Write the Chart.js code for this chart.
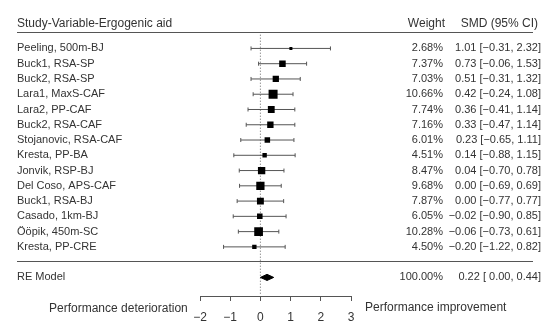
<!DOCTYPE html>
<html>
<head>
<meta charset="utf-8">
<script src="https://cdn.jsdelivr.net/npm/chart.js@4.4.1/dist/chart.umd.min.js"></script>
<style>
  html, body { margin: 0; padding: 0; background: #fff; }
  #wrap { width: 550px; height: 328px; position: relative; }
</style>
</head>
<body>
<div id="wrap"><canvas id="forest"></canvas></div>
<script>
// study rows, top to bottom
const studies = ['Peeling, 500m-BJ', 'Buck1, RSA-SP', 'Buck2, RSA-SP', 'Lara1, MaxS-CAF',
  'Lara2, PP-CAF', 'Buck2, RSA-CAF', 'Stojanovic, RSA-CAF', 'Kresta, PP-BA', 'Jonvik, RSP-BJ',
  'Del Coso, APS-CAF', 'Buck1, RSA-BJ', 'Casado, 1km-BJ', 'Ööpik, 450m-SC', 'Kresta, PP-CRE'];
const weights = [2.68, 7.37, 7.03, 10.66, 7.74, 7.16, 6.01, 4.51, 8.47, 9.68, 7.87, 6.05, 10.28, 4.50];
const smd = [1.01, 0.73, 0.51, 0.42, 0.36, 0.33, 0.23, 0.14, 0.04, 0.00, 0.00, -0.02, -0.06, -0.20];
const lower = [-0.31, -0.06, -0.31, -0.24, -0.41, -0.47, -0.65, -0.88, -0.70, -0.69, -0.77, -0.90, -0.73, -1.22];
const upper = [2.32, 1.53, 1.32, 1.08, 1.14, 1.14, 1.11, 1.15, 0.78, 0.69, 0.77, 0.85, 0.61, 0.82];
// random effects summary
const reLabel = 'RE Model';
const reEst = 0.22, reLow = 0.00, reHigh = 0.44, reWeight = 100.00;
const xTicks = [-2, -1, 0, 1, 2, 3];

const FONT = '"Liberation Sans", Arial, sans-serif';
const TXT = '#333';
const LINE = '#555';
const reRow = studies.length + 1;

const fmt = v => (v < 0 ? '\u2212' : '') + Math.abs(v).toFixed(2);
const fmtLow = v => (v < 0 ? '\u2212' : ' ') + Math.abs(v).toFixed(2);

// CI segments, separated by gaps
const ciData = [];
studies.forEach((s, i) => {
  ciData.push({x: lower[i], y: i}, {x: upper[i], y: i}, {x: null, y: null});
});
const ptData = studies.map((s, i) => ({x: smd[i], y: i}));
const diamond = [
  {x: reLow, y: reRow}, {x: reEst, y: reRow - 0.2},
  {x: reHigh, y: reRow}, {x: reEst, y: reRow + 0.2}, {x: reLow, y: reRow}
];

const textPlugin = {
  id: 'forestText',
  afterDraw(chart) {
    const ctx = chart.ctx;
    const ys = chart.scales.y;
    const px = v => ys.getPixelForValue(v);
    ctx.save();
    ctx.fillStyle = TXT;
    ctx.textBaseline = 'middle';
    ctx.font = '12px ' + FONT;
    // headers
    ctx.textAlign = 'left';
    ctx.fillText('Study-Variable-Ergogenic aid', 17, px(-1.6));
    ctx.textAlign = 'right';
    ctx.fillText('Weight', 445, px(-1.6));
    ctx.fillText('SMD (95% CI)', 538, px(-1.6));
    // rows
    ctx.font = '11px ' + FONT;
    studies.forEach((s, i) => {
      ctx.textAlign = 'left';
      ctx.fillText(s, 17, px(i));
      ctx.textAlign = 'right';
      ctx.fillText(weights[i].toFixed(2) + '%', 443, px(i));
      ctx.fillText(fmt(smd[i]) + ' [' + fmtLow(lower[i]) + ', ' + fmt(upper[i]) + ']', 541, px(i));
    });
    ctx.textAlign = 'left';
    ctx.fillText(reLabel, 17, px(reRow));
    ctx.textAlign = 'right';
    ctx.fillText(reWeight.toFixed(2) + '%', 443, px(reRow));
    ctx.fillText(fmt(reEst) + ' [' + fmtLow(reLow) + ', ' + fmt(reHigh) + ']', 541, px(reRow));
    // axis side labels
    ctx.font = '12px ' + FONT;
    ctx.textAlign = 'left';
    ctx.fillText('Performance deterioration', 49, 309);
    ctx.fillText('Performance improvement', 365, 308);
    // rule lines
    ctx.strokeStyle = LINE;
    ctx.lineWidth = 1;
    [-1.07, 13.9].forEach(v => {
      const y = Math.round(px(v)) + 0.5;
      ctx.beginPath();
      ctx.moveTo(17, y);
      ctx.lineTo(533, y);
      ctx.stroke();
    });
    ctx.restore();
  }
};

new Chart(document.getElementById('forest'), {
  type: 'scatter',
  data: {
    datasets: [
      {
        // points first so they sit on top
        data: ptData,
        pointStyle: 'rect',
        pointRadius: weights.map(w => (0.75 * w + 1) / 1.414),
        backgroundColor: '#000',
        borderColor: '#000',
        borderWidth: 0,
        order: 1
      },
      {
        type: 'line',
        data: ciData,
        borderColor: LINE,
        borderWidth: 1,
        spanGaps: false,
        pointStyle: 'line',
        rotation: 90,
        pointRadius: 2,
        pointBorderColor: LINE,
        pointBorderWidth: 1,
        order: 2
      },
      {
        type: 'line',
        data: diamond,
        borderColor: '#000',
        backgroundColor: '#000',
        borderWidth: 1,
        fill: 'shape',
        pointRadius: 0,
        tension: 0,
        order: 1
      },
      {
        type: 'line',
        data: [{x: 0, y: -0.9}, {x: 0, y: 16.1}],
        borderColor: '#666',
        borderWidth: 1,
        borderDash: [1, 2],
        pointRadius: 0,
        order: 3
      }
    ]
  },
  options: {
    responsive: true,
    maintainAspectRatio: false,
    animation: false,
    layout: { padding: { left: 200, right: 199, top: 0, bottom: 0 } },
    plugins: {
      legend: { display: false },
      tooltip: { enabled: false }
    },
    scales: {
      x: {
        type: 'linear',
        min: -2,
        max: 3,
        afterBuildTicks: axis => { axis.ticks = xTicks.map(v => ({value: v})); },
        afterFit: axis => { axis.height = 32; },
        ticks: {
          color: TXT,
          padding: 9,
          font: { family: FONT, size: 12 },
          callback: v => String(v).replace('-', '\u2212')
        },
        grid: { drawOnChartArea: false, drawTicks: true, tickLength: 5, color: LINE },
        border: { display: true, color: LINE }
      },
      y: {
        type: 'linear',
        display: false,
        reverse: true,
        min: -2.756,
        max: 16.218
      }
    }
  },
  plugins: [textPlugin]
});
</script>
</body>
</html>
